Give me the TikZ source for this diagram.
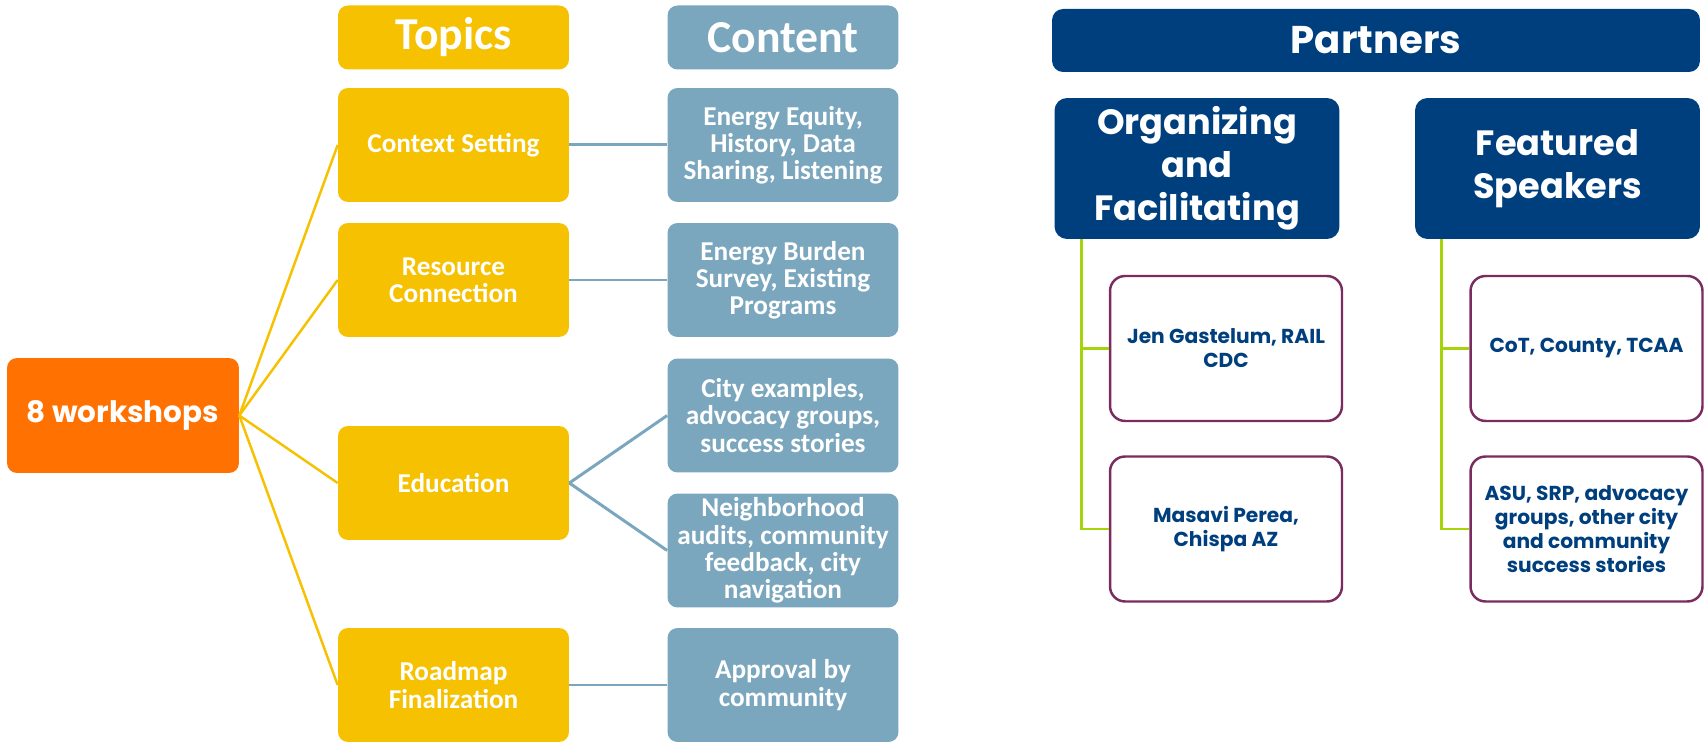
\documentclass[tikz,border=0pt]{standalone}
\usepackage{fontspec}
\setmainfont{Poppins}
\newfontfamily\calfont{Carlito}
\usetikzlibrary{positioning}
\definecolor{wsorange}{HTML}{FF7100}
\definecolor{topicgold}{HTML}{F5C100}
\definecolor{contentblue}{HTML}{7BA7BE}
\definecolor{partnernavy}{HTML}{003F7D}
\definecolor{namepurple}{HTML}{7A2B5F}
\definecolor{tapgreen}{HTML}{A6D40B}
\tikzset{
  basebox/.style={rectangle, inner sep=0pt, align=center, text=white, font=\bfseries},
  topichead/.style={basebox, fill=topicgold, rounded corners=0.2cm, minimum width=4.62cm, minimum height=1.28cm, font=\calfont\bfseries\fontsize{26}{28}\selectfont},
  contenthead/.style={topichead, fill=contentblue},
  topicbox/.style={basebox, fill=topicgold, rounded corners=0.2cm, minimum width=4.62cm, minimum height=2.28cm, font=\calfont\bfseries\fontsize{15.5}{15.5}\selectfont},
  contentbox/.style={topicbox, fill=contentblue},
  rootbox/.style={basebox, fill=wsorange, rounded corners=0.2cm, minimum width=4.64cm, minimum height=2.3cm, font=\bfseries\fontsize{16.8}{20}\selectfont},
  partnerhead/.style={basebox, fill=partnernavy, rounded corners=0.22cm, minimum width=12.96cm, minimum height=1.26cm, font=\bfseries\fontsize{22}{24}\selectfont},
  rolebox/.style={basebox, fill=partnernavy, rounded corners=0.25cm, minimum width=5.7cm, minimum height=2.82cm, font=\bfseries\fontsize{20}{24.5}\selectfont},
  namebox/.style={basebox, fill=white, draw=namepurple, line width=1.4pt, text=partnernavy, rounded corners=0.3cm, minimum width=4.64cm, minimum height=2.9cm, font=\bfseries\fontsize{11.5}{13.7}\selectfont},
  goldline/.style={draw=topicgold, line width=1.4pt},
  blueline/.style={draw=contentblue, line width=1.7pt},
  greenline/.style={draw=tapgreen, line width=1.7pt}
}
\begin{document}
\begin{tikzpicture}[x=0.02cm, y=-0.02cm]
\useasboundingbox (0,0) rectangle (1704,742);

% workshops, topics and content
\node[rootbox] (work) at (123,415.5) {8 workshops};
\node[topichead] (topics) at (453.5,37.5) {Topics};
\node[contenthead] (content) at (783,37.5) {Content};

\node[topicbox] (ctx) at (453.5,145) {Context Setting};
\node[topicbox] (res) at (453.5,280) {Resource\\Connection};
\node[topicbox] (edu) at (453.5,483) {Education};
\node[topicbox] (road) at (453.5,685) {Roadmap\\Finalization};

\node[contentbox] (equity) at (783,145) {Energy Equity,\\History, Data\\Sharing, Listening};
\node[contentbox] (survey) at (783,280) {Energy Burden\\Survey, Existing\\Programs};
\node[contentbox] (city) at (783,415.5) {City examples,\\advocacy groups,\\success stories};
\node[contentbox] (audit) at (783,550.5) {Neighborhood\\audits, community\\feedback, city\\navigation};
\node[contentbox] (approve) at (783,685) {Approval by\\community};

\foreach \t in {ctx,res,edu,road}
  \draw[goldline] (work.east) -- (\t.west);
\draw[blueline] (ctx.east) -- (equity.west);
\draw[blueline] (res.east) -- (survey.west);
\draw[blueline] (edu.east) -- (city.west);
\draw[blueline] (edu.east) -- (audit.west);
\draw[blueline] (road.east) -- (approve.west);

% partners
\node[partnerhead] (partners) at (1376,40.5) {Partners};
\node[rolebox] (org) at (1197,168.5) {Organizing\\and\\Facilitating};
\node[rolebox] (feat) at (1557.5,168.5) {Featured\\Speakers};

\node[namebox] (jen) at (1226,348.5) {Jen Gastelum, RAIL\\CDC};
\node[namebox] (masavi) at (1226,529) {Masavi Perea,\\Chispa AZ};
\node[namebox] (cot) at (1586.5,348.5) {CoT, County, TCAA};
\node[namebox] (asu) at (1586.5,529) {ASU, SRP, advocacy\\groups, other city\\and community\\success stories};

\coordinate (orgtap) at ([xshift=0.54cm]org.south west);
\coordinate (feattap) at ([xshift=0.53cm]feat.south west);
\draw[greenline] (orgtap) |- (jen.west);
\draw[greenline] (orgtap) |- (masavi.west);
\draw[greenline] (feattap) |- (cot.west);
\draw[greenline] (feattap) |- (asu.west);
\end{tikzpicture}
\end{document}
